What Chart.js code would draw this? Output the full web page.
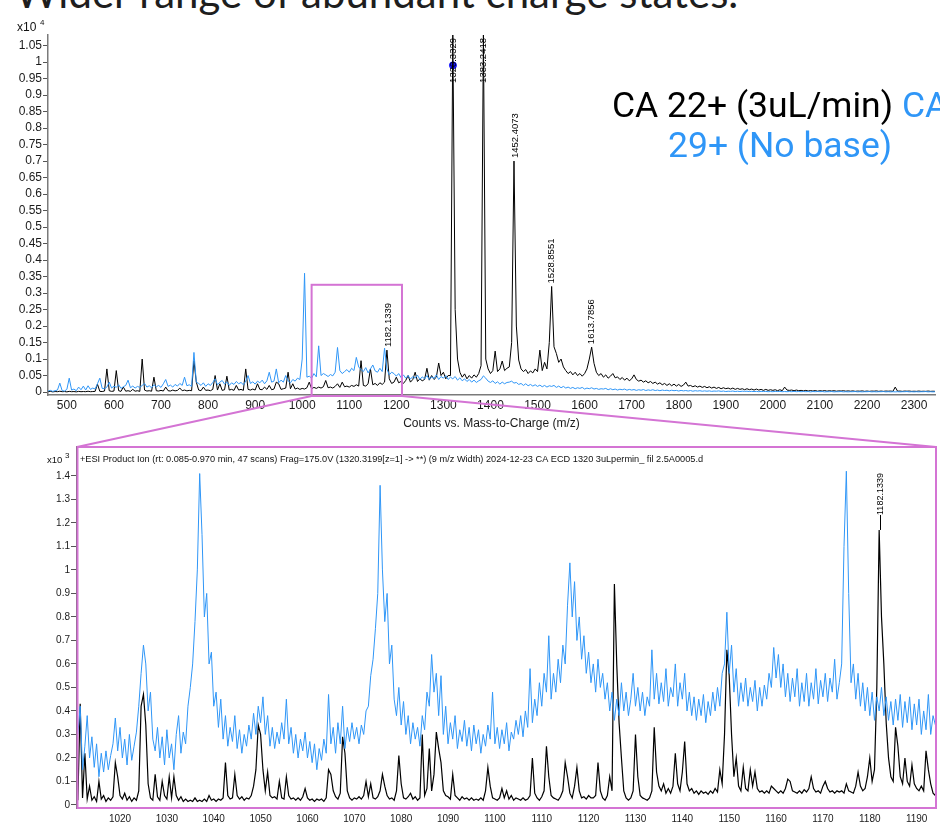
<!DOCTYPE html>
<html>
<head>
<meta charset="utf-8">
<script src="https://cdn.jsdelivr.net/npm/chart.js@4.4.0/dist/chart.umd.min.js"></script>
<style>
  html, body { margin: 0; padding: 0; background: #fff; }
  body { position: relative; width: 940px; height: 822px; overflow: hidden; }
  canvas { position: absolute; left: 0; }
  #headline { position: absolute; left: 15px; top: -29px; font: 400 42px/42px Lato, sans-serif; color: #1e1e1e; white-space: nowrap; }
  .legend { position: absolute; font: 400 35.5px/40px Roboto, sans-serif; white-space: nowrap; color: #000; }
</style>
</head>
<body>
<div id="headline">Wider range of abundant charge states.</div>
<canvas id="topChart" width="940" height="440" style="top:0px;width:940px;height:440px"></canvas>
<canvas id="zoomChart" width="940" height="382" style="top:440px;width:940px;height:382px"></canvas>
<canvas id="links" width="940" height="822" style="top:0px;width:940px;height:822px"></canvas>
<div id="legend1" class="legend" style="left:612px;top:85px"></div>
<div id="legend2" class="legend" style="left:668px;top:125px"></div>
<script>
// Series names
const seriesNames = ['CA 22+ (3uL/min)', 'CA 29+ (No base)'];

// Full spectrum, counts, sampled every 5 m/z from 460
const topMzStart = 460;
const topMzStep = 5;
const topBlack = [
  10,20,5,15,10,25,10,15,5,20,10,15,5,20,10,15,10,25,10,15,
  20,240,20,15,30,700,40,20,30,650,40,20,150,25,40,20,80,25,40,20,
  1000,60,30,40,25,450,40,30,50,30,150,40,30,60,35,50,120,40,60,35,
  50,40,950,300,60,40,150,50,60,40,80,500,60,250,50,70,480,60,80,50,
  200,60,80,50,700,80,60,90,60,250,80,70,150,80,200,70,90,300,250,80,
  100,120,600,100,250,90,120,80,110,90,130,300,100,140,110,150,120,160,350,130,
  150,120,170,250,140,300,160,180,150,200,170,220,180,950,200,180,250,700,220,260,
  200,280,230,300,1270,400,260,300,450,280,320,260,350,500,300,380,600,320,400,340,
  380,720,360,500,380,450,880,500,600,400,500,500,10900,2500,1000,600,450,550,400,500,
  420,520,450,560,800,10900,1000,700,560,650,1240,620,700,940,650,720,760,1500,7000,2000,
  970,700,620,680,560,640,580,700,620,1270,650,900,700,1500,3200,1370,1170,900,1000,760,
  650,560,620,520,600,500,560,480,560,700,1000,1360,870,600,500,560,450,520,420,480,
  560,430,460,380,440,360,420,340,400,520,380,330,360,300,340,280,320,260,300,240,
  280,220,260,200,250,190,240,180,230,170,210,300,180,200,160,190,150,180,140,170,
  130,160,120,150,110,140,100,130,100,120,90,120,80,110,80,100,70,100,70,90,
  60,90,60,80,50,80,50,70,50,70,40,70,40,150,60,50,60,40,60,40,
  50,35,50,30,45,30,45,25,40,30,45,25,40,30,40,25,35,30,40,25,
  35,25,35,20,30,25,35,20,30,20,30,25,35,20,30,20,30,25,30,20,
  150,25,30,20,30,25,30,20,25,20,30,20,25,20,30,20,25,20
];
const topBlue = [
  30,50,20,40,60,270,40,30,80,420,60,90,40,150,70,180,60,190,80,120,
  90,250,420,110,100,150,300,120,180,140,220,110,160,200,360,130,180,120,170,140,
  200,260,150,190,130,220,160,200,140,250,380,170,210,150,230,180,260,200,450,190,
  220,170,1200,300,260,200,280,170,250,200,290,400,220,300,350,240,310,200,280,230,
  320,250,290,220,330,500,260,310,240,330,280,360,250,340,600,300,330,700,280,360,
  300,500,340,280,380,330,420,380,1000,3600,450,480,420,560,460,1400,500,560,520,470,
  530,490,600,1350,650,560,620,680,600,720,650,1050,760,680,620,740,580,700,820,640,
  600,720,620,1330,700,520,600,560,480,560,440,520,420,500,390,470,420,510,380,460,
  400,500,380,460,410,520,380,470,420,500,380,450,400,470,360,430,340,400,320,380,
  300,360,290,340,380,490,420,330,290,340,260,310,240,300,250,290,300,330,270,290,
  230,260,200,250,190,230,180,220,170,210,160,200,150,190,170,200,140,180,130,170,
  120,150,110,140,100,130,110,140,90,120,100,130,90,110,80,100,90,110,70,100,
  70,90,60,85,70,90,55,80,60,75,50,70,55,75,45,65,50,70,45,60,
  40,60,45,55,35,55,40,50,30,50,35,45,30,45,25,40,30,40,25,35,
  25,35,20,30,25,35,20,30,15,25,20,30,15,25,15,25,20,25,15,20,
  15,20,10,20,15,20,10,15,10,20,15,20,10,15,10,15,10,20,10,15,
  10,15,10,15,5,15,10,15,10,15,5,10,10,15,5,10,10,15,5,10,
  5,10,10,15,5,10,5,10,10,15,5,10,5,10,10,15,5,10,5,10,
  5,10,5,10,10,15,5,10,5,10,5,10,10,15,5,10,5,10
];

// Zoomed window, counts, sampled every 0.5 m/z from 1011
const zoomMzStart = 1011;
const zoomMzStep = 0.5;
const zoomBlack = [
  20,430,30,220,25,80,20,35,15,100,25,40,15,30,20,35,180,120,40,25,
  50,20,35,15,30,20,60,420,470,340,90,30,20,130,35,20,100,40,25,120,
  30,120,40,20,35,15,25,15,20,15,30,15,20,15,25,15,40,20,25,15,
  25,20,30,180,40,25,30,130,40,25,35,20,30,25,40,80,150,340,300,150,
  60,140,40,30,35,25,100,30,25,120,40,25,30,20,30,20,35,70,30,20,
  25,15,25,20,25,15,30,150,130,60,35,25,50,290,220,60,30,20,30,25,
  35,25,40,100,35,90,30,25,35,60,130,80,40,25,30,20,60,210,90,30,
  25,35,50,25,35,20,30,300,40,70,240,60,130,310,240,180,60,40,35,25,
  130,40,30,20,35,25,30,20,30,20,25,20,30,20,60,160,80,30,25,20,
  30,70,30,60,25,40,20,30,25,20,30,20,25,40,200,50,30,20,35,60,
  250,120,40,30,25,20,35,60,180,120,50,30,80,160,60,30,35,25,40,30,
  30,40,180,60,30,20,40,120,60,940,600,350,200,60,30,20,30,60,300,120,
  40,30,25,20,30,60,330,140,80,60,90,50,70,50,80,220,90,60,140,270,
  90,60,70,50,60,45,60,50,55,45,60,50,70,55,150,90,300,660,550,300,
  120,200,80,60,160,70,60,150,80,140,70,55,60,50,60,50,80,70,60,50,
  60,50,70,110,100,60,55,50,60,50,65,55,70,120,70,55,60,50,80,100,
  70,55,60,50,60,55,60,50,90,60,55,50,80,140,80,60,70,120,200,100,
  150,500,1170,800,600,350,200,120,100,330,250,120,90,200,100,80,170,90,70,60,
  80,60,230,150,90,50,40
];
const zoomBlue = [
  300,420,150,250,380,200,290,160,260,120,220,140,230,150,210,260,370,230,330,200,
  280,170,300,190,250,310,420,560,680,600,400,480,280,230,330,200,290,170,320,200,
  260,150,300,380,220,310,260,420,500,600,780,1000,1410,1150,800,900,600,650,420,480,
  330,450,280,380,250,330,270,380,240,320,220,300,250,340,280,390,300,420,350,460,
  300,380,250,330,240,310,260,350,280,450,260,330,220,300,200,280,230,310,200,270,
  180,260,150,240,190,280,220,470,260,330,220,350,260,420,240,330,270,350,280,330,
  260,340,300,400,420,550,620,750,900,1360,1000,780,900,600,680,450,380,500,340,440,
  300,380,260,350,280,330,250,380,320,480,420,640,480,560,380,550,300,420,260,350,
  280,380,240,320,270,360,250,330,230,340,260,320,220,300,250,340,280,480,260,330,
  240,320,260,350,230,310,280,360,300,380,290,400,330,580,350,450,380,520,420,560,
  480,720,450,560,480,620,520,680,600,850,1030,800,950,700,800,620,720,560,650,520,
  600,480,620,500,560,450,520,400,480,360,450,380,520,400,480,380,450,560,420,500,
  400,480,380,460,420,660,450,560,430,520,440,580,420,500,460,600,420,520,450,560,
  400,480,380,460,360,450,380,470,350,440,380,480,400,500,420,560,600,820,560,680,
  480,580,420,520,440,540,420,500,440,530,400,500,420,510,450,560,500,670,540,640,
  500,600,460,560,440,540,460,580,420,520,440,560,420,520,450,580,430,530,460,560,
  440,540,480,620,450,520,600,1100,1420,900,520,600,450,560,420,520,400,500,380,480,
  360,460,400,500,380,460,360,440,340,450,360,470,330,440,350,460,320,430,340,450,
  300,400,320,470,300,380,340
];

// Axis ticks
const topXTicks = [500,600,700,800,900,1000,1100,1200,1300,1400,1500,1600,1700,1800,1900,2000,2100,2200,2300];
const topYTickLabels = ['0','0.05','0.1','0.15','0.2','0.25','0.3','0.35','0.4','0.45','0.5','0.55','0.6','0.65','0.7','0.75','0.8','0.85','0.9','0.95','1','1.05']; // x10^4
const zoomXTicks = [1020,1030,1040,1050,1060,1070,1080,1090,1100,1110,1120,1130,1140,1150,1160,1170,1180,1190];
const zoomYTickLabels = ['0','0.1','0.2','0.3','0.4','0.5','0.6','0.7','0.8','0.9','1','1.1','1.2','1.3','1.4']; // x10^3

// Annotated peaks
const topPeaks = [1182.1339, 1320.3329, 1383.2418, 1452.4073, 1528.8551, 1613.7856];
const zoomPeaks = [1182.1339];
const precursor = [1320.3329, 9900];
const zoomWindow = [1020, 1212, 3250]; // m/z from, m/z to, counts

const header = '+ESI Product Ion (rt: 0.085-0.970 min, 47 scans) Frag=175.0V (1320.3199[z=1] -> **) (9 m/z Width) 2024-12-23 CA ECD 1320 3uLpermin_ fil 2.5A0005.d';

const BLUE = '#2f96f7';
const MAGENTA = '#d474d4';
const FONT = '"Liberation Sans", Arial, sans-serif';

function toPoints(values, start, step) {
  return values.map((v, i) => ({ x: start + i * step, y: v }));
}

function apexOf(values, start, step, mz, win) {
  let best = 0;
  values.forEach((v, i) => {
    if (Math.abs(start + i * step - mz) <= win && v > best) best = v;
  });
  return best;
}

// rotated m/z labels above the peaks
const peakLabelPlugin = {
  id: 'peakLabels',
  afterDatasetsDraw(chart, args, o) {
    const { ctx, chartArea } = chart;
    const x = chart.scales.x, y = chart.scales.y;
    ctx.save();
    ctx.font = o.font;
    ctx.fillStyle = '#000';
    ctx.strokeStyle = '#000';
    ctx.lineWidth = 1;
    o.peaks.forEach(mz => {
      const text = mz.toFixed(4);
      const w = ctx.measureText(text).width;
      const px = Math.round(x.getPixelForValue(mz)) + 0.5;
      const apex = Math.max(y.getPixelForValue(apexOf(o.values, o.start, o.step, mz, o.win)), chartArea.top);
      let base = apex - o.gap;
      if (base - w < chartArea.top + 3) base = chartArea.top + 3 + w;
      if (o.gap > 3 && base < apex) {
        ctx.beginPath();
        ctx.moveTo(px, apex);
        ctx.lineTo(px, base);
        ctx.stroke();
      }
      ctx.save();
      ctx.translate(px, base);
      ctx.rotate(-Math.PI / 2);
      ctx.textAlign = 'left';
      ctx.textBaseline = 'middle';
      ctx.fillText(text, 0, 0);
      ctx.restore();
    });
    ctx.restore();
  }
};

// x10^n exponent note, header line and frame
const notePlugin = {
  id: 'notes',
  afterDraw(chart, args, o) {
    const { ctx, chartArea } = chart;
    ctx.save();
    ctx.fillStyle = '#111';
    ctx.textAlign = 'left';
    ctx.textBaseline = 'alphabetic';
    ctx.font = o.expFont;
    ctx.fillText('x10', o.expX, o.expY);
    ctx.font = o.supFont;
    ctx.fillText(o.exp, o.supX, o.supY);
    if (o.header) {
      ctx.font = o.headerFont;
      ctx.fillText(o.header, chartArea.left + 3, chartArea.top + 15);
    }
    if (o.frame) {
      ctx.strokeStyle = MAGENTA;
      ctx.lineWidth = 2;
      ctx.strokeRect(chartArea.left + 0.5, chartArea.top, chartArea.right - chartArea.left - 0.5, chartArea.bottom - chartArea.top);
    }
    ctx.restore();
  }
};

const topChart = new Chart(document.getElementById('topChart'), {
  type: 'line',
  data: {
    datasets: [
      { label: seriesNames[1], data: toPoints(topBlue, topMzStart, topMzStep), borderColor: BLUE, borderWidth: 1, pointRadius: 0, tension: 0 },
      { label: seriesNames[0], data: toPoints(topBlack, topMzStart, topMzStep), borderColor: '#000', borderWidth: 1, pointRadius: 0, tension: 0 },
      { label: 'precursor', data: [{ x: precursor[0], y: precursor[1] }], showLine: false, pointRadius: 3.5, pointBackgroundColor: '#1414ff', pointBorderColor: '#1414ff' }
    ]
  },
  options: {
    responsive: false,
    animation: false,
    devicePixelRatio: 1,
    layout: { padding: { top: 35, right: 0, bottom: 0, left: 0 } },
    plugins: {
      legend: { display: false },
      tooltip: { enabled: false },
      peakLabels: { peaks: topPeaks, values: topBlack, start: topMzStart, step: topMzStep, win: 3, gap: 3, font: '9.5px ' + FONT },
      notes: { expFont: '12px ' + FONT, supFont: '8px ' + FONT, exp: '4', expX: 17, expY: 31, supX: 40, supY: 25 }
    },
    scales: {
      x: {
        type: 'linear',
        min: 459.9,
        max: 2344.5,
        afterBuildTicks: s => { s.ticks = topXTicks.map(v => ({ value: v })); },
        afterFit: s => { s.height = 45; },
        grid: { display: false, drawTicks: false },
        border: { display: true, color: '#7a7a7a', width: 1.5 },
        ticks: { font: { family: FONT, size: 12 }, color: '#1a1a1a', padding: 3, maxRotation: 0, autoSkip: false, callback: v => String(v) },
        title: { display: true, text: 'Counts vs. Mass-to-Charge (m/z)', font: { family: FONT, size: 12 }, color: '#1a1a1a', padding: { top: 0, bottom: 9 } }
      },
      y: {
        type: 'linear',
        min: -90,
        max: 10820,
        afterBuildTicks: s => { s.ticks = topYTickLabels.map(t => ({ value: Math.round(parseFloat(t) * 1e4) })); },
        afterFit: s => { s.width = 48; },
        grid: { display: true, drawOnChartArea: false, drawTicks: true, tickLength: 5, color: '#555' },
        border: { display: true, color: '#7a7a7a', width: 1.5 },
        ticks: { font: { family: FONT, size: 12 }, color: '#1a1a1a', padding: 1, autoSkip: false, callback: (v, i) => topYTickLabels[i] }
      }
    }
  },
  plugins: [peakLabelPlugin, notePlugin]
});

const zoomChart = new Chart(document.getElementById('zoomChart'), {
  type: 'line',
  data: {
    datasets: [
      { label: seriesNames[1], data: toPoints(zoomBlue, zoomMzStart, zoomMzStep), borderColor: BLUE, borderWidth: 1, pointRadius: 0, tension: 0 },
      { label: seriesNames[0], data: toPoints(zoomBlack, zoomMzStart, zoomMzStep), borderColor: '#000', borderWidth: 1.2, pointRadius: 0, tension: 0 }
    ]
  },
  options: {
    responsive: false,
    animation: false,
    devicePixelRatio: 1,
    layout: { padding: { top: 7, right: 4, bottom: 0, left: 0 } },
    plugins: {
      legend: { display: false },
      tooltip: { enabled: false },
      peakLabels: { peaks: zoomPeaks, values: zoomBlack, start: zoomMzStart, step: zoomMzStep, win: 1, gap: 15, font: '9px ' + FONT },
      notes: { expFont: '9.5px ' + FONT, supFont: '8px ' + FONT, exp: '3', expX: 47, expY: 23, supX: 65, supY: 18, header: header, headerFont: '9.2px ' + FONT, frame: true }
    },
    scales: {
      x: {
        type: 'linear',
        min: 1010.82,
        max: 1194.13,
        afterBuildTicks: s => { s.ticks = zoomXTicks.map(v => ({ value: v })); },
        afterFit: s => { s.height = 14; },
        grid: { display: false, drawTicks: false },
        border: { display: false },
        ticks: { font: { family: FONT, size: 10 }, color: '#1a1a1a', padding: 5, maxRotation: 0, autoSkip: false, callback: v => String(v) }
      },
      y: {
        type: 'linear',
        min: -13,
        max: 1523,
        afterBuildTicks: s => { s.ticks = zoomYTickLabels.map(t => ({ value: Math.round(parseFloat(t) * 1e3) })); },
        afterFit: s => { s.width = 77; },
        grid: { display: true, drawOnChartArea: false, drawTicks: true, tickLength: 6, color: '#555' },
        border: { display: true, color: '#666', width: 1.5 },
        ticks: { font: { family: FONT, size: 10 }, color: '#1a1a1a', padding: 1, autoSkip: false, callback: (v, i) => zoomYTickLabels[i] }
      }
    }
  },
  plugins: [peakLabelPlugin, notePlugin]
});

// zoom window on the full spectrum and the lines to the zoomed panel
function drawLinks() {
  const lc = document.getElementById('links').getContext('2d');
  const tx = topChart.scales.x, ty = topChart.scales.y;
  const left = tx.getPixelForValue(zoomWindow[0]);
  const right = tx.getPixelForValue(zoomWindow[1]);
  const top = ty.getPixelForValue(zoomWindow[2]);
  const bottom = topChart.chartArea.bottom + 1;
  const offset = document.getElementById('zoomChart').offsetTop;
  const za = zoomChart.chartArea;
  lc.strokeStyle = MAGENTA;
  lc.lineWidth = 2;
  lc.strokeRect(left, top, right - left, bottom - top);
  lc.beginPath();
  lc.moveTo(left, bottom);
  lc.lineTo(za.left, offset + za.top);
  lc.moveTo(right, bottom);
  lc.lineTo(za.right, offset + za.top);
  lc.stroke();
}
drawLinks();

// legend text, wrapped like the slide
const secondParts = seriesNames[1].split(' ');
document.getElementById('legend1').innerHTML = seriesNames[0] + ' <span style="color:' + BLUE + '">' + secondParts[0] + '</span>';
const legend2 = document.getElementById('legend2');
legend2.textContent = secondParts.slice(1).join(' ');
legend2.style.color = BLUE;
</script>
</body>
</html>
